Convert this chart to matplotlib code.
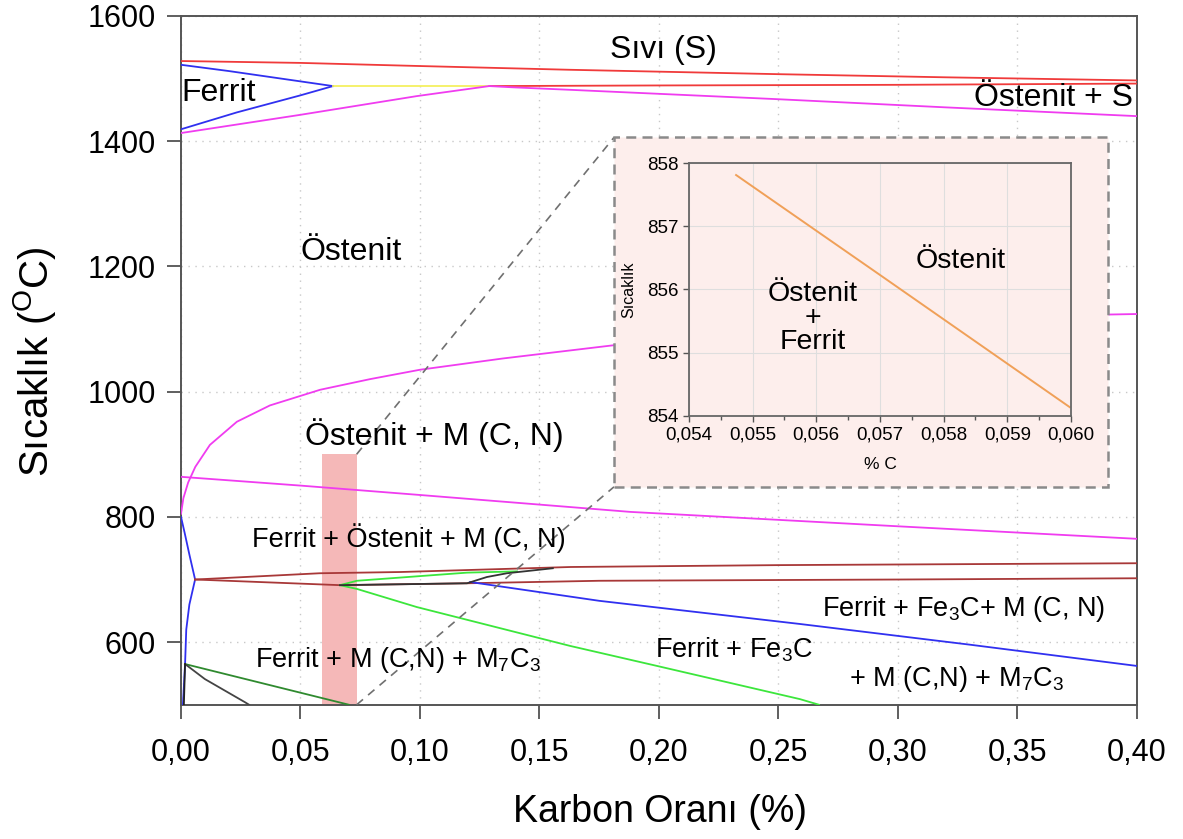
import matplotlib
matplotlib.use("Agg")
import matplotlib.pyplot as plt
from matplotlib.patches import Rectangle

plt.rcParams['font.family'] = ['Liberation Sans', 'DejaVu Sans']
plt.rcParams['mathtext.fontset'] = 'custom'
plt.rcParams['mathtext.rm'] = 'Liberation Sans'
plt.rcParams['mathtext.it'] = 'Liberation Sans'
plt.rcParams['mathtext.bf'] = 'Liberation Sans:bold'

# ---------------- data ----------------
liq_x = [0.0, 0.05, 0.10, 0.163, 0.25, 0.32, 0.40]
liq_y = [1528, 1525, 1520, 1514, 1507, 1502, 1497]

sol_x = [0.129, 0.20, 0.30, 0.40]
sol_y = [1488, 1489, 1490, 1492]

fer_top_x = [0.0, 0.02, 0.04, 0.0636]
fer_top_y = [1522, 1512, 1501, 1488]
fer_bot_x = [0.0, 0.0234, 0.0498, 0.0636]
fer_bot_y = [1419, 1446, 1473, 1488]

peri_x = [0.0636, 0.129]
peri_y = [1488, 1488]

aus_sol_x = [0.0, 0.0498, 0.0987, 0.129]
aus_sol_y = [1413, 1442, 1472, 1488]
aus_liq_x = [0.129, 0.139, 0.163, 0.25, 0.32, 0.40]
aus_liq_y = [1488, 1486, 1482, 1467, 1454, 1440]

mcn_x = [0.0, 0.001, 0.003, 0.006, 0.0121, 0.0234, 0.0372, 0.0582, 0.0791, 0.10,
         0.1347, 0.1808, 0.25, 0.32, 0.386, 0.40]
mcn_y = [805, 830, 855, 880, 915, 952, 978, 1003, 1020, 1035,
         1053, 1074, 1093, 1109, 1123, 1124]

a3_x = [0.0, 0.05, 0.10, 0.188, 0.30, 0.40]
a3_y = [864, 850, 835, 808, 785, 765]

fer_left_x = [0.0, 0.0015, 0.0035, 0.0059, 0.0035, 0.0022, 0.0017, 0.0008]
fer_left_y = [800, 775, 740, 700, 660, 620, 565, 500]

br_up_x = [0.0059, 0.058, 0.092, 0.163, 0.25, 0.40]
br_up_y = [700, 710, 712, 720, 723, 726]
br_lo_x = [0.0059, 0.0665, 0.1197, 0.175, 0.30, 0.40]
br_lo_y = [700, 691, 694, 698, 700, 702]

gr_up_x = [0.0665, 0.0736, 0.1197, 0.1406]
gr_up_y = [691, 698, 711, 713]
gr_lo_x = [0.0665, 0.0736, 0.0987, 0.1628, 0.1992, 0.259, 0.267]
gr_lo_y = [691, 685, 656, 594, 562, 509, 500]

blk_x = [0.0665, 0.1197, 0.1280, 0.1364, 0.1556]
blk_y = [691, 694, 704, 710, 718]

bl_r_x = [0.121, 0.175, 0.259, 0.33, 0.40]
bl_r_y = [696, 666, 629, 596, 562]

dg_x = [0.0017, 0.0703]
dg_y = [565, 500]
gy_x = [0.0017, 0.010, 0.0268, 0.0285]
gy_y = [565, 541, 504, 500]
bk_x = [0.0017, 0.0012]
bk_y = [565, 500]

# inset data
ins_x = [0.05474, 0.0570, 0.05998]
ins_y = [857.81, 856.23, 854.14]

x_ticks = [0.0, 0.05, 0.10, 0.15, 0.20, 0.25, 0.30, 0.35, 0.40]
x_tick_labels = ['0,00', '0,05', '0,10', '0,15', '0,20', '0,25', '0,30', '0,35', '0,40']
y_ticks = [600, 800, 1000, 1200, 1400, 1600]

ins_xticks = [0.054, 0.055, 0.056, 0.057, 0.058, 0.059, 0.060]
ins_xlabels = ['0,054', '0,055', '0,056', '0,057', '0,058', '0,059', '0,060']
ins_yticks = [854, 855, 856, 857, 858]

# highlight window and inset box (main-axes data coords)
hl_x0, hl_x1, hl_y0, hl_y1 = 0.059, 0.0735, 500, 900
box_x0, box_x1, box_y0, box_y1 = 0.1812, 0.3879, 848, 1406

# ---------------- figure ----------------
fig = plt.figure(figsize=(11.83, 8.39), dpi=100)
ax = fig.add_axes([0.153, 0.160, 0.808, 0.821])
ax.set_xlim(0, 0.40)
ax.set_ylim(500, 1600)

RED = '#f03a3a'
BLUE = '#3030f0'
MAG = '#f03cf0'
YEL = '#f4f060'
BRN = '#a83838'
GRN = '#3ce63c'
DGR = '#2f8a2f'
lw = 1.3

ax.add_patch(Rectangle((hl_x0, hl_y0), hl_x1 - hl_x0, hl_y1 - hl_y0,
                       facecolor='#f5b8b8', edgecolor='none', zorder=1))

ax.plot(liq_x, liq_y, color=RED, lw=lw, zorder=3)
ax.plot(sol_x, sol_y, color=RED, lw=lw, zorder=3)
ax.plot(fer_top_x, fer_top_y, color=BLUE, lw=lw, zorder=3)
ax.plot(fer_bot_x, fer_bot_y, color=BLUE, lw=lw, zorder=3)
ax.plot(peri_x, peri_y, color=YEL, lw=lw, zorder=3)
ax.plot(aus_sol_x, aus_sol_y, color=MAG, lw=lw, zorder=3)
ax.plot(aus_liq_x, aus_liq_y, color=MAG, lw=lw, zorder=3)
ax.plot(mcn_x, mcn_y, color=MAG, lw=lw, zorder=3)
ax.plot(a3_x, a3_y, color=MAG, lw=lw, zorder=3)
ax.plot(fer_left_x, fer_left_y, color=BLUE, lw=lw, zorder=3)
ax.plot(br_up_x, br_up_y, color=BRN, lw=lw, zorder=3)
ax.plot(br_lo_x, br_lo_y, color=BRN, lw=lw, zorder=3)
ax.plot(gr_up_x, gr_up_y, color=GRN, lw=lw, zorder=4)
ax.plot(gr_lo_x, gr_lo_y, color=GRN, lw=lw, zorder=4)
ax.plot(blk_x, blk_y, color='#333333', lw=lw, zorder=4)
ax.plot(bl_r_x, bl_r_y, color=BLUE, lw=lw, zorder=3)
ax.plot(dg_x, dg_y, color=DGR, lw=lw, zorder=3)
ax.plot(gy_x, gy_y, color='#444444', lw=lw, zorder=3)
ax.plot(bk_x, bk_y, color='#222222', lw=lw, zorder=3)

# connectors and inset box
ax.plot([hl_x1, box_x0], [hl_y1, box_y1], ls=(0, (5, 4)), color='#707070', lw=1.2, zorder=5)
ax.plot([hl_x1, box_x0], [hl_y0, box_y0], ls=(0, (5, 4)), color='#707070', lw=1.2, zorder=5)
ax.add_patch(Rectangle((box_x0, box_y0), box_x1 - box_x0, box_y1 - box_y0,
                       facecolor='#fdeeec', edgecolor='#8a8a8a', lw=1.8,
                       ls=(0, (4, 2.5)), zorder=6))

ax.set_xticks(x_ticks)
ax.set_xticklabels(x_tick_labels)
ax.set_yticks(y_ticks)
ax.tick_params(axis='both', direction='out', length=10, width=1.2, color='#444444',
               labelsize=22, top=False, right=False)
ax.tick_params(axis='x', pad=14)
ax.tick_params(axis='y', pad=8)
ax.grid(True, ls=(0, (1, 4)), color='#c8c8c8', lw=1.0)
ax.set_axisbelow(True)
for s in ax.spines.values():
    s.set_color('#555555')
    s.set_linewidth(1.4)

# region labels
FS = 23
FS2 = 19.5
ax.text(0.1795, 1533, 'Sıvı (S)', fontsize=FS, ha='left', va='baseline', zorder=7)
ax.text(0.0, 1464, 'Ferrit', fontsize=FS, ha='left', va='baseline', zorder=7)
ax.text(0.3985, 1456, 'Östenit + S', fontsize=FS, ha='right', va='baseline', zorder=7)
ax.text(0.0498, 1210, 'Östenit', fontsize=FS, ha='left', va='baseline', zorder=7)
ax.text(0.0519, 915, 'Östenit + M (C, N)', fontsize=FS, ha='left', va='baseline', zorder=7)
ax.text(0.0297, 752, 'Ferrit + Östenit + M (C, N)', fontsize=FS2, ha='left', va='baseline', zorder=7)
ax.text(0.031, 560, 'Ferrit + M (C,N) + M$_7$C$_3$', fontsize=FS2, ha='left', va='baseline', zorder=7)
ax.text(0.1983, 576, 'Ferrit + Fe$_3$C', fontsize=FS2, ha='left', va='baseline', zorder=7)
ax.text(0.2682, 641, 'Ferrit + Fe$_3$C+ M (C, N)', fontsize=FS2, ha='left', va='baseline', zorder=7)
ax.text(0.2795, 530, '+ M (C,N) + M$_7$C$_3$', fontsize=FS2, ha='left', va='baseline', zorder=7)

fig.text(35 / 1183, 1 - 362 / 839, 'Sıcaklık ($^{\\mathrm{O}}$C)', rotation=90,
         fontsize=29, ha='center', va='center')
fig.text(660 / 1183, 1 - 812 / 839, 'Karbon Oranı (%)', fontsize=27, ha='center', va='center')

# ---------------- inset ----------------
ins = fig.add_axes([0.5824, 0.5042, 0.3229, 0.3015], zorder=10)
ins.set_facecolor('#fdeeec')
ins.set_xlim(0.054, 0.060)
ins.set_ylim(854, 858)
ins.plot(ins_x, ins_y, color='#f0a058', lw=1.4)
ins.set_xticks(ins_xticks)
ins.set_xticklabels(ins_xlabels)
ins.set_xticks([0.0545, 0.0555, 0.0565, 0.0575, 0.0585, 0.0595], minor=True)
ins.set_yticks(ins_yticks)
ins.tick_params(axis='both', direction='out', length=4, width=1, color='#555555', labelsize=13.5)
ins.tick_params(axis='x', which='minor', direction='out', length=3, width=1, color='#555555')
ins.grid(True, color='#dedede', lw=0.8)
ins.set_axisbelow(True)
for s in ins.spines.values():
    s.set_color('#666666')
    s.set_linewidth(1.3)
ins.set_xlabel('% C', fontsize=12.5, labelpad=10)
ins.set_ylabel('Sıcaklık', fontsize=11.5, labelpad=8)
ins.text(0.05827, 856.34, 'Östenit', fontsize=20.5, ha='center', va='baseline')
ins.text(0.05595, 855.55, 'Östenit\n+\nFerrit', fontsize=20.5, ha='center', va='center',
         linespacing=0.9)

fig.savefig('out.png', dpi=100)
